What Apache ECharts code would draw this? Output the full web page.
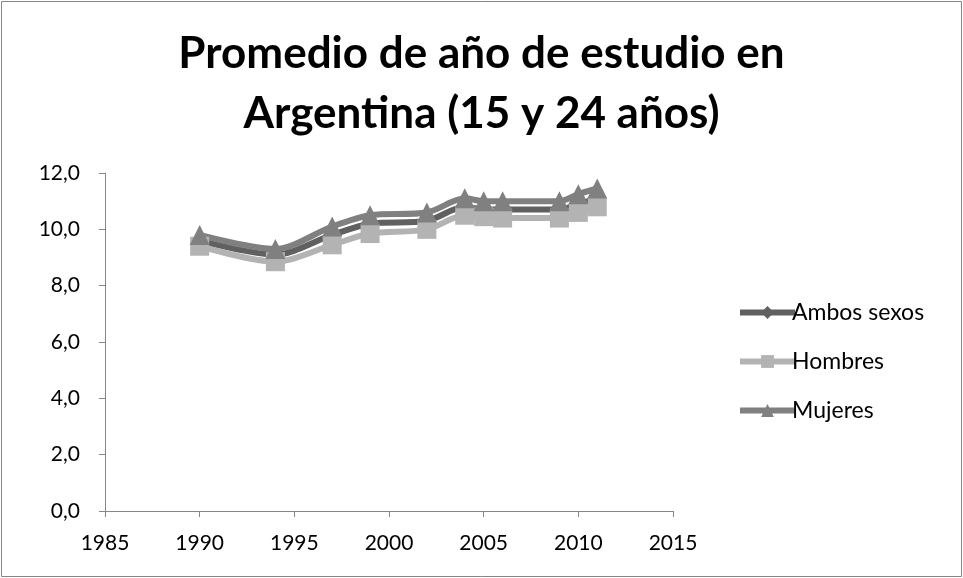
<!DOCTYPE html>
<html>
<head>
<meta charset="utf-8">
<script src="https://cdn.jsdelivr.net/npm/echarts@6/dist/echarts.min.js"></script>
<style>
html,body{margin:0;padding:0;background:#fff;}
#c{width:963px;height:578px;}
</style>
</head>
<body>
<div id="c"></div>
<script>
var years = [1990, 1994, 1997, 1999, 2002, 2004, 2005, 2006, 2009, 2010, 2011];
var ambos = [9.6, 9.1, 9.8, 10.2, 10.3, 10.8, 10.7, 10.7, 10.7, 10.9, 11.1];
var hombres = [9.4, 8.85, 9.45, 9.85, 10.0, 10.5, 10.45, 10.4, 10.4, 10.6, 10.8];
var mujeres = [9.8, 9.3, 10.1, 10.5, 10.6, 11.1, 11.0, 11.0, 11.0, 11.25, 11.45];
var seriesNames = ['Ambos sexos', 'Hombres', 'Mujeres'];
var titleText = 'Promedio de año de estudio en\nArgentina (15 y 24 años)';

function pairs(v){ return years.map(function(y,i){ return [y, v[i]]; }); }
var FONT = 'Lato';
var chart = echarts.init(document.getElementById('c'));
function mk(name, data, color, symbol, size){
  return {
    name: name, type: 'line', smooth: 0.3, data: pairs(data),
    symbol: symbol, symbolSize: size,
    lineStyle: {color: color, width: 6},
    itemStyle: {color: color},
    z: 2
  };
}
chart.setOption({
  animation: false,
  graphic: [{type:'rect', shape:{x:1.5,y:1.5,width:960,height:575}, style:{fill:'none', stroke:'#868686', lineWidth:1}}],
  title: {
    text: titleText, left: 'center', top: 19,
    textStyle: {fontFamily: FONT, fontSize: 44, fontWeight: 'bold', color: '#000', lineHeight: 60}
  },
  grid: {left: 105, right: 290, top: 173, bottom: 67},
  legend: {
    orient: 'vertical', left: 732, top: 296, itemGap: 26, itemWidth: 55, itemHeight: 16,
    data: seriesNames,
    lineStyle: {width: 6},
    textStyle: {fontFamily: FONT, fontSize: 23, color: '#000', padding: [0,0,0,-8]}
  },
  xAxis: {
    type: 'value', min: 1985, max: 2015, interval: 5,
    axisLine: {lineStyle: {color: '#868686', width: 1}},
    axisTick: {show: true, length: 6, lineStyle: {color: '#868686'}},
    axisLabel: {fontFamily: FONT, fontSize: 21, color: '#000', margin: 22,
      formatter: function(v){ return String(v); }},
    splitLine: {show: false}
  },
  yAxis: {
    type: 'value', min: 0, max: 12, interval: 2,
    axisLine: {show: true, lineStyle: {color: '#868686', width: 1}},
    axisTick: {show: true, length: 6, lineStyle: {color: '#868686'}},
    axisLabel: {fontFamily: FONT, fontSize: 21, color: '#000', margin: 25,
      formatter: function(v){ return v.toFixed(1).replace('.', ','); }},
    splitLine: {show: false}
  },
  series: [
    mk(seriesNames[0], ambos, '#606060', 'diamond', 16),
    mk(seriesNames[1], hombres, '#b3b3b3', 'rect', 19),
    mk(seriesNames[2], mujeres, '#808080', 'triangle', 20)
  ]
});
</script>
</body>
</html>
